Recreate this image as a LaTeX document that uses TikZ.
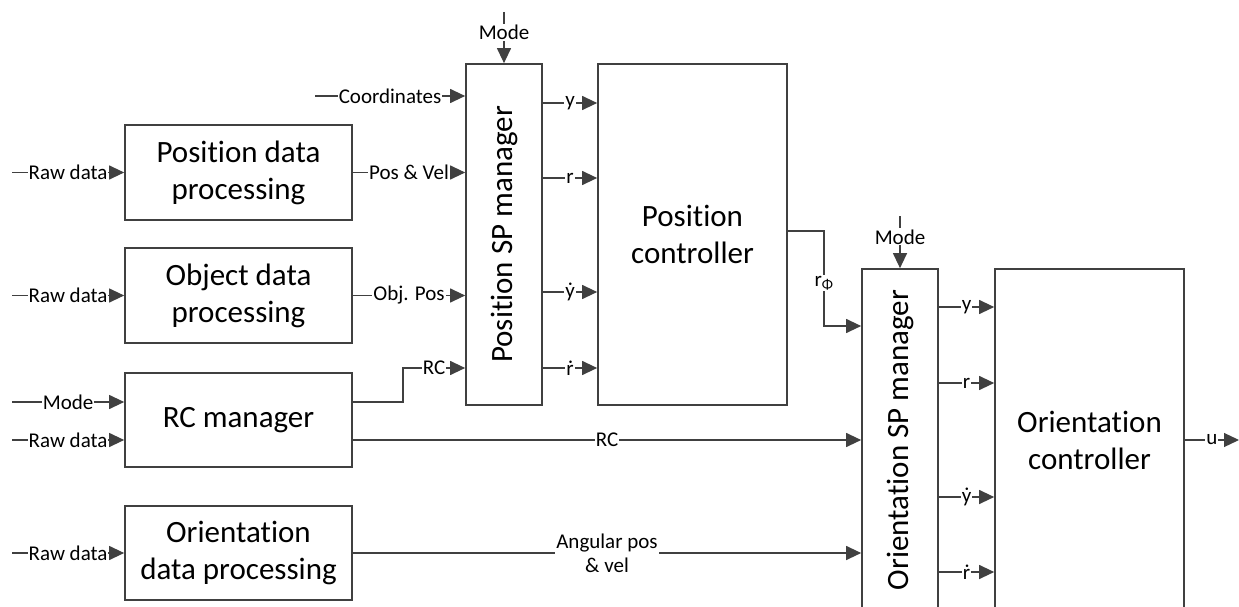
\documentclass[tikz,border=0pt]{standalone}
\usepackage{fontspec}
\setmainfont{Carlito}[Ligatures=NoCommon]
\usetikzlibrary{arrows.meta, positioning, calc}
\definecolor{blkgray}{RGB}{64, 64, 64}

\begin{document}
\begin{tikzpicture}[x=1pt, y=-1pt, >={Triangle[length=15pt, width=14pt]},
  block/.style={draw=blkgray, line width=1.7pt, inner sep=0pt, align=center,
    font=\fontsize{31}{37}\selectfont},
  sig/.style={->, draw=blkgray, line width=1.2pt},
  lbl/.style={fill=white, inner sep=1pt, align=center,
    font=\fontsize{21}{24}\selectfont}]

  \useasboundingbox (0,0) rectangle (1239,607);
  \clip (0,0) rectangle (1239,607);

  % --- data processing blocks ---
  \node[block, minimum width=227pt, minimum height=95pt] (posdp) at (238.5,172.5)
    {Position data\\processing};
  \node[block, minimum width=227pt, minimum height=95pt] (objdp) at (238.5,295.5)
    {Object data\\processing};
  \node[block, minimum width=227pt, minimum height=94pt] (rcman) at (238.5,420)
    {RC manager};
  \node[block, minimum width=227pt, minimum height=94pt] (oridp) at (238.5,553)
    {Orientation\\data processing};

  % --- position loop ---
  \node[block, minimum width=76pt, minimum height=341pt] (possp) at (504,234.5)
    {\rotatebox{90}{Position SP manager}};
  \node[block, minimum width=189pt, minimum height=341pt] (posctl) at (692.5,234.5)
    {Position\\controller};

  % --- orientation loop ---
  \node[block, minimum width=76pt, minimum height=342pt] (orisp) at (900,440)
    {\rotatebox{90}{Orientation SP manager}};
  \node[block, minimum width=189pt, minimum height=342pt] (orictl) at (1089.5,440)
    {Orientation\\controller};

  % --- free input ends ---
  \coordinate (rawA) at (12,172.5);
  \coordinate (rawB) at (12,295.5);
  \coordinate (modeC) at (12,402);
  \coordinate (rawC) at (12,440);
  \coordinate (rawD) at (12,553);
  \coordinate (coordin) at (315,96);
  \coordinate (modeP) at (504,12);
  \coordinate (modeO) at (900,216);
  \coordinate (uout) at (1239,440);

  % --- inputs of the processing blocks ---
  \draw[sig] (rawA) -- node[lbl]{Raw data} (posdp.west);
  \draw[sig] (rawB) -- node[lbl]{Raw data} (objdp.west);
  \draw[sig] (modeC) -- node[lbl]{Mode} (rcman.west |- modeC);
  \draw[sig] (rawC) -- node[lbl]{Raw data} (rcman.west |- rawC);
  \draw[sig] (rawD) -- node[lbl]{Raw data} (oridp.west);

  % --- into the position SP manager ---
  \draw[sig] (modeP) -- node[lbl, pos=0.4]{Mode} (possp.north);
  \draw[sig] (coordin) -- node[lbl]{Coordinates} (possp.west |- coordin);
  \draw[sig] (posdp.east) -- node[lbl]{Pos \& Vel} (possp.west |- posdp.east);
  \draw[sig] (objdp.east) -- node[lbl]{Obj. Pos} (possp.west |- objdp.east);
  \draw[sig] (rcman.east |- modeC) -- (403,402)
    |- node[lbl, pos=0.75]{RC} (possp.west |- 0,368);

  % --- position SP manager to controller ---
  \draw[sig] (possp.east |- 0,103) -- node[lbl]{y} (posctl.west |- 0,103);
  \draw[sig] (possp.east |- 0,178) -- node[lbl]{r} (posctl.west |- 0,178);
  \draw[sig] (possp.east |- 0,292) -- node[lbl]{ẏ} (posctl.west |- 0,292);
  \draw[sig] (possp.east |- 0,368) -- node[lbl]{ṙ} (posctl.west |- 0,368);

  % --- into the orientation SP manager ---
  \draw[sig] (posctl.east |- 0,231) -- (824,231)
    -- node[lbl, pos=0.55]{r\textsubscript{Φ}} (824,326) -- (orisp.west |- 0,326);
  \draw[sig] (modeO) -- node[lbl, pos=0.4]{Mode} (orisp.north);
  \draw[sig] (rcman.east |- rawC) -- node[lbl]{RC} (orisp.west |- rawC);
  \draw[sig] (oridp.east) -- node[lbl]{Angular pos\\\& vel} (orisp.west |- oridp.east);

  % --- orientation SP manager to controller ---
  \draw[sig] (orisp.east |- 0,307) -- node[lbl]{y} (orictl.west |- 0,307);
  \draw[sig] (orisp.east |- 0,383) -- node[lbl]{r} (orictl.west |- 0,383);
  \draw[sig] (orisp.east |- 0,497) -- node[lbl]{ẏ} (orictl.west |- 0,497);
  \draw[sig] (orisp.east |- 0,572) -- node[lbl]{ṙ} (orictl.west |- 0,572);

  % --- output ---
  \draw[sig] (orictl.east |- uout) -- node[lbl]{u} (uout);

\end{tikzpicture}
\end{document}
